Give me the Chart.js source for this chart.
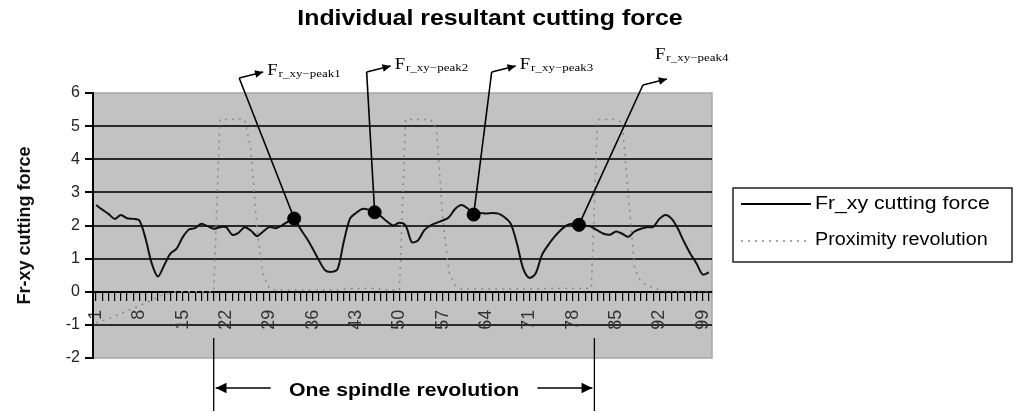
<!DOCTYPE html>
<html>
<head>
<meta charset="utf-8">
<script src="https://cdn.jsdelivr.net/npm/chart.js@4.4.1/dist/chart.umd.min.js"></script>
<style>
  html, body { margin: 0; padding: 0; background: #fff; }
</style>
</head>
<body>
<canvas id="chart" width="1016" height="413"></canvas>
<script>
// sample numbers along the x axis (1..100)
const samples = Array.from({ length: 100 }, (_, i) => String(i + 1));
const shownTicks = ['1', '8', '15', '22', '29', '36', '43', '50', '57', '64', '71', '78', '85', '92', '99'];

// Fr_xy cutting force
const force = [
    2.62, 2.48, 2.35, 2.20, 2.32, 2.22, 2.20, 2.15, 1.60, 0.85,
    0.46, 0.80, 1.15, 1.30, 1.65, 1.88, 1.92, 2.05, 1.98, 1.90,
    1.95, 1.95, 1.72, 1.78, 1.95, 1.85, 1.68, 1.82, 1.95, 1.92,
    2.00, 2.12, 2.21, 1.90, 1.62, 1.30, 0.95, 0.65, 0.60, 0.68,
    1.50, 2.20, 2.38, 2.50, 2.48, 2.40, 2.28, 2.12, 2.00, 2.08,
    2.00, 1.50, 1.55, 1.85, 2.00, 2.08, 2.15, 2.25, 2.50, 2.62,
    2.52, 2.33, 2.38, 2.36, 2.38, 2.36, 2.25, 2.05, 1.45, 0.70,
    0.42, 0.55, 1.10, 1.40, 1.65, 1.85, 2.00, 2.05, 2.02, 2.00,
    1.96, 1.85, 1.75, 1.72, 1.82, 1.75, 1.66, 1.82, 1.90, 1.95,
    1.96, 2.20, 2.32, 2.20, 1.90, 1.50, 1.15, 0.85, 0.52, 0.58
];

// Proximity revolution signal
const proximity = [
    -0.94, -0.88, -0.82, -0.74, -0.66, -0.58, -0.50, -0.42, -0.34, -0.26,
    -0.16, -0.08, -0.03, 0.00, 0.00, 0.00, 0.00, 0.00, 0.00, 0.00,
    5.20, 5.20, 5.20, 5.22, 5.20, 4.30, 1.90, 0.50, 0.10, 0.05,
    0.05, 0.05, 0.05, 0.05, 0.05, 0.05, 0.05, 0.05, 0.05, 0.05,
    0.08, 0.10, 0.10, 0.10, 0.10, 0.10, 0.08, 0.05, 0.05, 0.05,
    5.20, 5.20, 5.20, 5.20, 5.20, 4.90, 2.20, 0.60, 0.20, 0.08,
    0.08, 0.08, 0.08, 0.08, 0.08, 0.08, 0.08, 0.08, 0.08, 0.08,
    0.08, 0.08, 0.08, 0.10, 0.10, 0.10, 0.10, 0.10, 0.10, 0.10,
    0.10, 5.20, 5.20, 5.20, 5.20, 5.10, 2.90, 0.70, 0.30, 0.20,
    0.12, 0.06, 0.02, 0.02, 0.02, 0.02, 0.02, 0.02, 0.02, 0.02
];

// indices of the marked peaks and their names
const peakIdx = [32, 45, 61, 78];
const peakNames = ['r_xy\u2212peak1', 'r_xy\u2212peak2', 'r_xy\u2212peak3', 'r_xy\u2212peak4'];
// one spindle revolution, in sample index units
const revolution = [19, 80.5];

const peaks = force.map((v, i) => peakIdx.includes(i) ? v : null);

// callout elbow offsets: x from the dot, y from the top of the plot
const calloutPos = [
    { dx: -55, dy: -15 },
    { dx: -8, dy: -21 },
    { dx: 18, dy: -21 },
    { dx: 64, dy: -8 }
];

function arrow(ctx, x1, y1, x2, y2, size) {
    ctx.beginPath();
    ctx.moveTo(x1, y1);
    ctx.lineTo(x2, y2);
    ctx.stroke();
    const a = Math.atan2(y2 - y1, x2 - x1);
    ctx.beginPath();
    ctx.moveTo(x2, y2);
    ctx.lineTo(x2 - size * Math.cos(a - 0.45), y2 - size * Math.sin(a - 0.45));
    ctx.lineTo(x2 - size * Math.cos(a + 0.45), y2 - size * Math.sin(a + 0.45));
    ctx.closePath();
    ctx.fill();
}

// the source figure uses a slightly wide face, so stretch text horizontally
function wideText(ctx, text, x, y, sx) {
    ctx.save();
    ctx.translate(x, y);
    ctx.scale(sx, 1);
    ctx.fillText(text, 0, 0);
    ctx.restore();
    return ctx.measureText(text).width * sx;
}

const plotBg = {
    id: 'plotBg',
    beforeDraw(chart) {
        const { ctx, chartArea: a } = chart;
        ctx.save();
        ctx.fillStyle = '#c2c2c2';
        ctx.fillRect(a.left, a.top, a.right - a.left, a.bottom - a.top);
        ctx.strokeStyle = '#a6a6a6';
        ctx.lineWidth = 1.5;
        ctx.strokeRect(a.left, a.top, a.right - a.left, a.bottom - a.top);
        ctx.restore();
    }
};

const extras = {
    id: 'extras',
    afterDraw(chart) {
        const { ctx, chartArea: a } = chart;
        const xs = chart.scales.x;
        ctx.save();
        ctx.fillStyle = '#000';
        ctx.strokeStyle = '#000';

        // title
        ctx.font = 'bold 22px "Liberation Sans", Arial, sans-serif';
        ctx.textAlign = 'center';
        ctx.textBaseline = 'middle';
        wideText(ctx, 'Individual resultant cutting force', 490, 19, 1.13);

        // peak callouts
        const meta = chart.getDatasetMeta(0);
        ctx.lineWidth = 1.6;
        peakIdx.forEach((idx, k) => {
            const pt = meta.data[idx];
            const c = calloutPos[k];
            const ex = pt.x + c.dx, ey = a.top + c.dy;
            ctx.beginPath();
            ctx.moveTo(pt.x, pt.y);
            ctx.lineTo(ex, ey);
            ctx.stroke();
            const tx = ex + 24, ty = ey - 6;
            arrow(ctx, ex, ey, tx, ty, 9);
            let lx = tx + 4, ly = ty + 3;
            if (k === 3) { lx = tx - 12; ly = ty - 20; }
            ctx.textAlign = 'left';
            ctx.textBaseline = 'alphabetic';
            ctx.font = '17px "Liberation Serif", "Times New Roman", serif';
            const fw = wideText(ctx, 'F', lx, ly, 1.1);
            ctx.font = '10px "Liberation Serif", "Times New Roman", serif';
            wideText(ctx, peakNames[k], lx + fw + 1, ly + 2, 1.3);
        });

        // one spindle revolution bracket
        const x0 = xs.getPixelForValue(revolution[0]);
        const x1 = xs.getPixelForValue(revolution[1]);
        ctx.lineWidth = 1.3;
        ctx.beginPath();
        ctx.moveTo(x0, a.bottom - 20); ctx.lineTo(x0, 411);
        ctx.moveTo(x1, a.bottom - 20); ctx.lineTo(x1, 411);
        ctx.stroke();
        const ay = 388;
        arrow(ctx, x0 + 57, ay, x0 + 2, ay, 12);
        arrow(ctx, x1 - 57, ay, x1 - 2, ay, 12);
        ctx.font = 'bold 18px "Liberation Sans", Arial, sans-serif';
        ctx.textAlign = 'center';
        ctx.textBaseline = 'middle';
        wideText(ctx, 'One spindle revolution', (x0 + x1) / 2, ay + 3, 1.18);

        // legend
        const bx = a.right + 21, by = 188, bw = 279, bh = 74;
        ctx.lineWidth = 1.5;
        ctx.strokeStyle = '#222';
        ctx.strokeRect(bx, by, bw, bh);
        ctx.font = '18px "Liberation Sans", Arial, sans-serif';
        ctx.textAlign = 'left';
        ctx.textBaseline = 'middle';
        ctx.strokeStyle = '#000';
        ctx.lineWidth = 2;
        ctx.beginPath();
        ctx.moveTo(bx + 8, by + 16); ctx.lineTo(bx + 78, by + 16);
        ctx.stroke();
        wideText(ctx, 'Fr_xy cutting force', bx + 82, by + 16, 1.18);
        ctx.strokeStyle = '#888';
        ctx.lineWidth = 1.5;
        ctx.setLineDash([2, 5]);
        ctx.beginPath();
        ctx.moveTo(bx + 8, by + 53); ctx.lineTo(bx + 78, by + 53);
        ctx.stroke();
        ctx.setLineDash([]);
        wideText(ctx, 'Proximity revolution', bx + 82, by + 52, 1.1);
        ctx.restore();
    }
};

new Chart(document.getElementById('chart'), {
    type: 'line',
    data: {
        labels: samples,
        datasets: [
            {
                label: 'peaks',
                data: peaks,
                showLine: false,
                pointRadius: 6.5,
                pointBackgroundColor: '#000',
                pointBorderColor: '#000'
            },
            {
                label: 'Fr_xy cutting force',
                data: force,
                borderColor: '#111',
                borderWidth: 2,
                pointRadius: 0,
                tension: 0.3,
                fill: false
            },
            {
                label: 'Proximity revolution',
                data: proximity,
                borderColor: '#8a8a8a',
                borderWidth: 1.5,
                borderDash: [2, 5],
                pointRadius: 0,
                tension: 0,
                fill: false
            }
        ]
    },
    options: {
        responsive: false,
        animation: false,
        devicePixelRatio: 1,
        layout: { padding: { left: 0, top: 93, right: 304, bottom: 55 } },
        plugins: {
            legend: { display: false },
            title: { display: false },
            tooltip: { enabled: false }
        },
        scales: {
            x: {
                position: { y: 0 },
                offset: true,
                grid: {
                    drawOnChartArea: false,
                    drawTicks: true,
                    tickLength: 8,
                    tickColor: '#000',
                    lineWidth: 1.2
                },
                border: { display: true, color: '#000', width: 2 },
                ticks: {
                    autoSkip: false,
                    minRotation: 90,
                    maxRotation: 90,
                    padding: 10,
                    color: '#333',
                    font: { family: '"Liberation Sans", Arial, sans-serif', size: 18 },
                    callback(value) {
                        const l = this.getLabelForValue(value);
                        return shownTicks.includes(l) ? l : '';
                    }
                }
            },
            y: {
                min: -2,
                max: 6,
                afterFit(scale) { scale.width = 93; },
                ticks: {
                    stepSize: 1,
                    padding: 5,
                    color: '#222',
                    font: { family: '"Liberation Sans", Arial, sans-serif', size: 16 }
                },
                grid: {
                    color(c) {
                        const v = c.tick.value;
                        if (v === 6 || v === -2) return 'rgba(0,0,0,0)';
                        return '#2a2a2a';
                    },
                    lineWidth: 2,
                    tickLength: 8,
                    tickColor: '#000'
                },
                border: { display: true, color: '#000', width: 2 },
                title: {
                    display: true,
                    text: 'Fr-xy cutting force',
                    color: '#111',
                    padding: { top: 14, bottom: 0 },
                    font: { family: '"Liberation Sans", Arial, sans-serif', size: 18, weight: 'bold' }
                }
            }
        }
    },
    plugins: [plotBg, extras]
});
</script>
</body>
</html>
